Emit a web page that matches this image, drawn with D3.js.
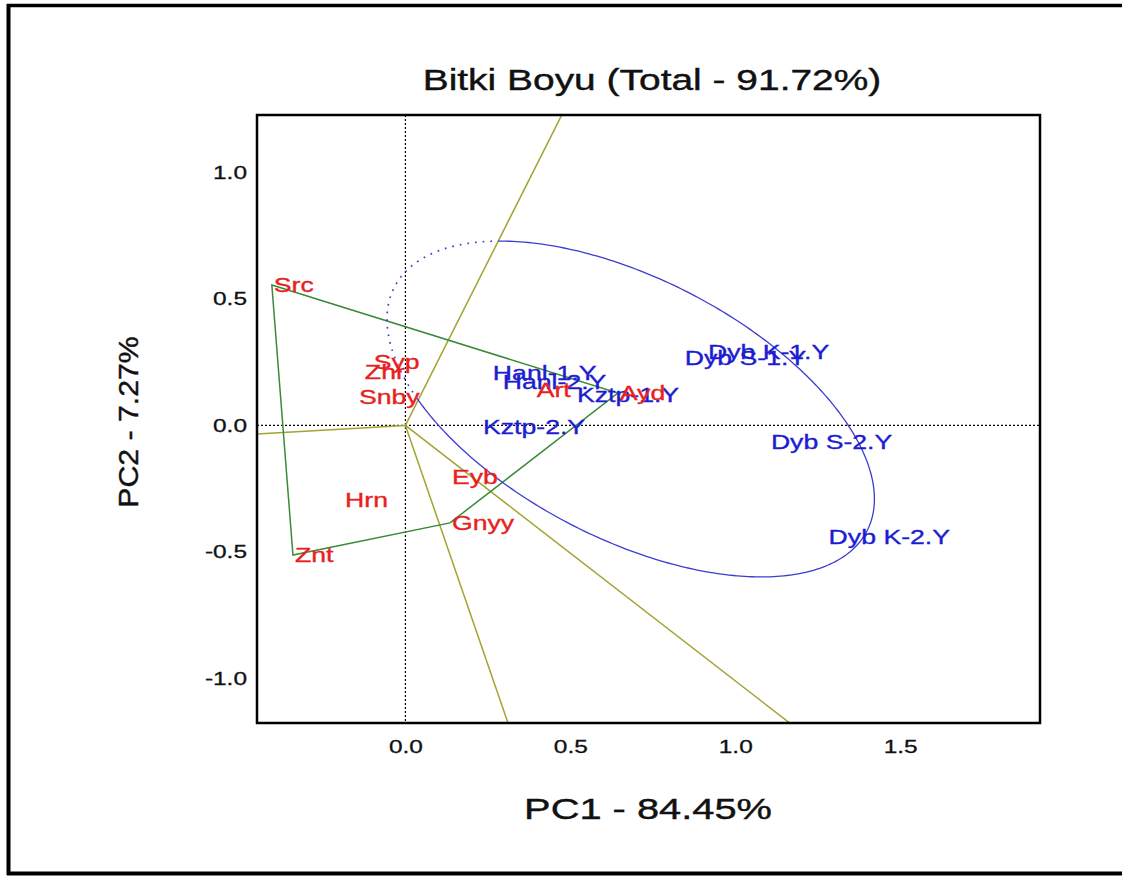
<!DOCTYPE html>
<html>
<head>
<meta charset="utf-8">
<script src="https://cdn.jsdelivr.net/npm/d3@7"></script>
<style>
  body { margin: 0; background: #fff; }
  svg { display: block; }
</style>
</head>
<body>
<div id="chart"></div>
<script>
// genotypes (red)
const genotypes = ['Src', 'Syp', 'Zhr', 'Snby', 'Hrn', 'Eyb', 'Gnyy', 'Znt', 'Art', 'Ayd'];
const genoPC1 = [-0.405, -0.102, -0.129, -0.147, -0.189, 0.135, 0.135, -0.341, 0.392, 0.644];
const genoPC2 = [0.555, 0.251, 0.211, 0.113, -0.295, -0.204, -0.385, -0.512, 0.140, 0.128];
// environments (blue)
const environments = ['Hanl-1.Y', 'Hanl-2.Y', 'Kztp-1.Y', 'Kztp-2.Y', 'Dyb K-1.Y', 'Dyb S-1.Y', 'Dyb S-2.Y', 'Dyb K-2.Y'];
const envPC1 = [0.259, 0.289, 0.514, 0.229, 0.911, 0.841, 1.102, 1.277];
const envPC2 = [0.208, 0.172, 0.121, -0.006, 0.291, 0.267, -0.065, -0.441];
// polygon (which-won-where) vertices
const hull = ['Src', 'Ayd', 'Gnyy', 'Znt'];
// sector rays from the origin (end points read at the plot edge)
const rayPC1 = [0.474, -0.45, 0.311, 1.165];
const rayPC2 = [1.227, -0.034, -1.176, -1.176];
// ellipse: centre + semi-axis vectors
const ellipseCenter = [0.683, 0.065];
const ellipseMajor = [0.7166, -0.4815];
const ellipseMinor = [-0.1804, -0.4568];
// axes
const xTicks = [0, 0.5, 1, 1.5];
const yTicks = [-1, -0.5, 0, 0.5, 1];
const titleText = 'Bitki Boyu (Total - 91.72%)';
const xTitle = 'PC1 - 84.45%';
const yTitle = 'PC2 - 7.27%';

const width = 1122;
const height = 876;
const box = { left: 257, right: 1040, top: 115, bottom: 723 };
const font = '"Liberation Sans", Arial, sans-serif';
const red = '#e82020';
const blue = '#1c1cd0';
const green = '#3a8a3a';
const olive = '#a3a332';

const svg = d3.select('#chart').append('svg')
  .attr('width', width)
  .attr('height', height)
  .style('background', '#fff');

// outer frame ------------------------------------------------------------
svg.append('line').attr('x1', 8.5).attr('x2', 8.5).attr('y1', 4).attr('y2', 875)
  .attr('stroke', '#000').attr('stroke-width', 4);
svg.append('line').attr('x1', 7).attr('x2', width).attr('y1', 5.5).attr('y2', 5.5)
  .attr('stroke', '#000').attr('stroke-width', 3.5);
svg.append('line').attr('x1', 7).attr('x2', width).attr('y1', 873.5).attr('y2', 873.5)
  .attr('stroke', '#000').attr('stroke-width', 4);

// scales -----------------------------------------------------------------
const x = d3.scaleLinear().domain([-0.45, 1.924]).range([box.left, box.right]);
const y = d3.scaleLinear().domain([-1.176, 1.227]).range([box.bottom, box.top]);

svg.append('clipPath').attr('id', 'plot-clip')
  .append('rect')
  .attr('x', box.left).attr('y', box.top)
  .attr('width', box.right - box.left).attr('height', box.bottom - box.top);

const plot = svg.append('g').attr('clip-path', 'url(#plot-clip)');

// dotted zero lines
plot.append('line')
  .attr('x1', x(0)).attr('x2', x(0)).attr('y1', box.top).attr('y2', box.bottom)
  .attr('stroke', '#000').attr('stroke-width', 1.2).attr('stroke-dasharray', '2,2');
plot.append('line')
  .attr('x1', box.left).attr('x2', box.right).attr('y1', y(0)).attr('y2', y(0))
  .attr('stroke', '#000').attr('stroke-width', 1.2).attr('stroke-dasharray', '2,2');

// sector rays
plot.selectAll('.ray')
  .data(rayPC1.map((d, i) => [d, rayPC2[i]]))
  .enter()
  .append('line')
  .attr('class', 'ray')
  .attr('x1', x(0)).attr('y1', y(0))
  .attr('x2', d => x(d[0] * 1.05))
  .attr('y2', d => y(d[1] * 1.05))
  .attr('stroke', olive)
  .attr('stroke-width', 1.5);

// polygon
const genoByName = {};
genotypes.forEach((g, i) => { genoByName[g] = [genoPC1[i], genoPC2[i]]; });
const hullPts = hull.map(g => genoByName[g]);
plot.append('path')
  .attr('d', d3.line().x(d => x(d[0])).y(d => y(d[1])).curve(d3.curveLinearClosed)(hullPts))
  .attr('fill', 'none')
  .attr('stroke', green)
  .attr('stroke-width', 1.5);

// ellipse: dotted where it lies left of the first ray, solid elsewhere
const ellPts = d3.range(0, 361).map(k => {
  const t = k / 360 * 2 * Math.PI;
  return [
    ellipseCenter[0] + Math.cos(t) * ellipseMajor[0] + Math.sin(t) * ellipseMinor[0],
    ellipseCenter[1] + Math.cos(t) * ellipseMajor[1] + Math.sin(t) * ellipseMinor[1]
  ];
});
const side = p => rayPC1[0] * p[1] - rayPC2[0] * p[0] > 0;
const runs = [];
let cur = { dotted: side(ellPts[0]), pts: [ellPts[0]] };
for (let i = 1; i < ellPts.length; i++) {
  const s = side(ellPts[i]);
  cur.pts.push(ellPts[i]);
  if (s !== cur.dotted) {
    runs.push(cur);
    cur = { dotted: s, pts: [ellPts[i]] };
  }
}
runs.push(cur);
const ellLine = d3.line().x(d => x(d[0])).y(d => y(d[1]));
plot.selectAll('.ell')
  .data(runs)
  .enter()
  .append('path')
  .attr('class', 'ell')
  .attr('d', d => ellLine(d.pts))
  .attr('fill', 'none')
  .attr('stroke', '#3c3cd2')
  .attr('stroke-width', d => d.dotted ? 1.7 : 1.3)
  .attr('stroke-dasharray', d => d.dotted ? '1.7,6' : null);

// labels -------------------------------------------------------------------
const labelSize = 20.5;
const labelStretch = 1.3;
const labels = svg.append('g').attr('font-family', font).attr('font-size', labelSize);
labels.selectAll('.env')
  .data(environments.map((e, i) => ({ name: e, px: envPC1[i], py: envPC2[i] })))
  .enter()
  .append('text')
  .attr('class', 'env')
  .attr('transform', d => 'translate(' + (x(d.px) + 2) + ',' + y(d.py) + ') scale(' + labelStretch + ',1)')
  .attr('dy', '0.35em')
  .attr('fill', blue)
  .attr('stroke', blue)
  .attr('stroke-width', 0.35)
  .text(d => d.name);
labels.selectAll('.geno')
  .data(genotypes.map((g, i) => ({ name: g, px: genoPC1[i], py: genoPC2[i] })))
  .enter()
  .append('text')
  .attr('class', 'geno')
  .attr('transform', d => 'translate(' + (x(d.px) + 2) + ',' + y(d.py) + ') scale(' + labelStretch + ',1)')
  .attr('dy', '0.35em')
  .attr('fill', red)
  .attr('stroke', red)
  .attr('stroke-width', 0.35)
  .text(d => d.name);

// box ----------------------------------------------------------------------
svg.append('rect')
  .attr('x', box.left).attr('y', box.top)
  .attr('width', box.right - box.left).attr('height', box.bottom - box.top)
  .attr('fill', 'none')
  .attr('stroke', '#000')
  .attr('stroke-width', 2.5);

// axes (labels only) -------------------------------------------------------
const tickSize = 18.8;
svg.append('g')
  .attr('transform', 'translate(0,' + box.bottom + ')')
  .call(d3.axisBottom(x).tickValues(xTicks).tickSize(0).tickPadding(17).tickFormat(d => d.toFixed(1)))
  .call(g => g.select('.domain').remove())
  .attr('font-family', font)
  .attr('font-size', tickSize)
  .selectAll('text')
  .attr('fill', '#111')
  .attr('stroke', '#111')
  .attr('stroke-width', 0.3)
  .attr('transform', 'scale(1.3,1)');
svg.append('g')
  .attr('transform', 'translate(' + box.left + ',0)')
  .call(d3.axisLeft(y).tickValues(yTicks).tickSize(0).tickPadding(7.7).tickFormat(d => d.toFixed(1)))
  .call(g => g.select('.domain').remove())
  .attr('font-family', font)
  .attr('font-size', tickSize)
  .selectAll('text')
  .attr('fill', '#111')
  .attr('stroke', '#111')
  .attr('stroke-width', 0.3)
  .attr('transform', 'scale(1.3,1)');

// titles -------------------------------------------------------------------
svg.append('text')
  .attr('transform', 'translate(652,89.5) scale(1.32,1)')
  .attr('text-anchor', 'middle')
  .attr('font-family', font)
  .attr('font-size', 29.5)
  .attr('fill', '#111')
  .attr('stroke', '#111')
  .attr('stroke-width', 0.4)
  .text(titleText);
svg.append('text')
  .attr('transform', 'translate(648,819) scale(1.35,1)')
  .attr('text-anchor', 'middle')
  .attr('font-family', font)
  .attr('font-size', 29.5)
  .attr('fill', '#111')
  .attr('stroke', '#111')
  .attr('stroke-width', 0.4)
  .text(xTitle);
svg.append('text')
  .attr('transform', 'translate(138,422) rotate(-90) scale(1.08,1)')
  .attr('text-anchor', 'middle')
  .attr('font-family', font)
  .attr('font-size', 28)
  .attr('fill', '#111')
  .attr('stroke', '#111')
  .attr('stroke-width', 0.4)
  .text(yTitle);
</script>
</body>
</html>
